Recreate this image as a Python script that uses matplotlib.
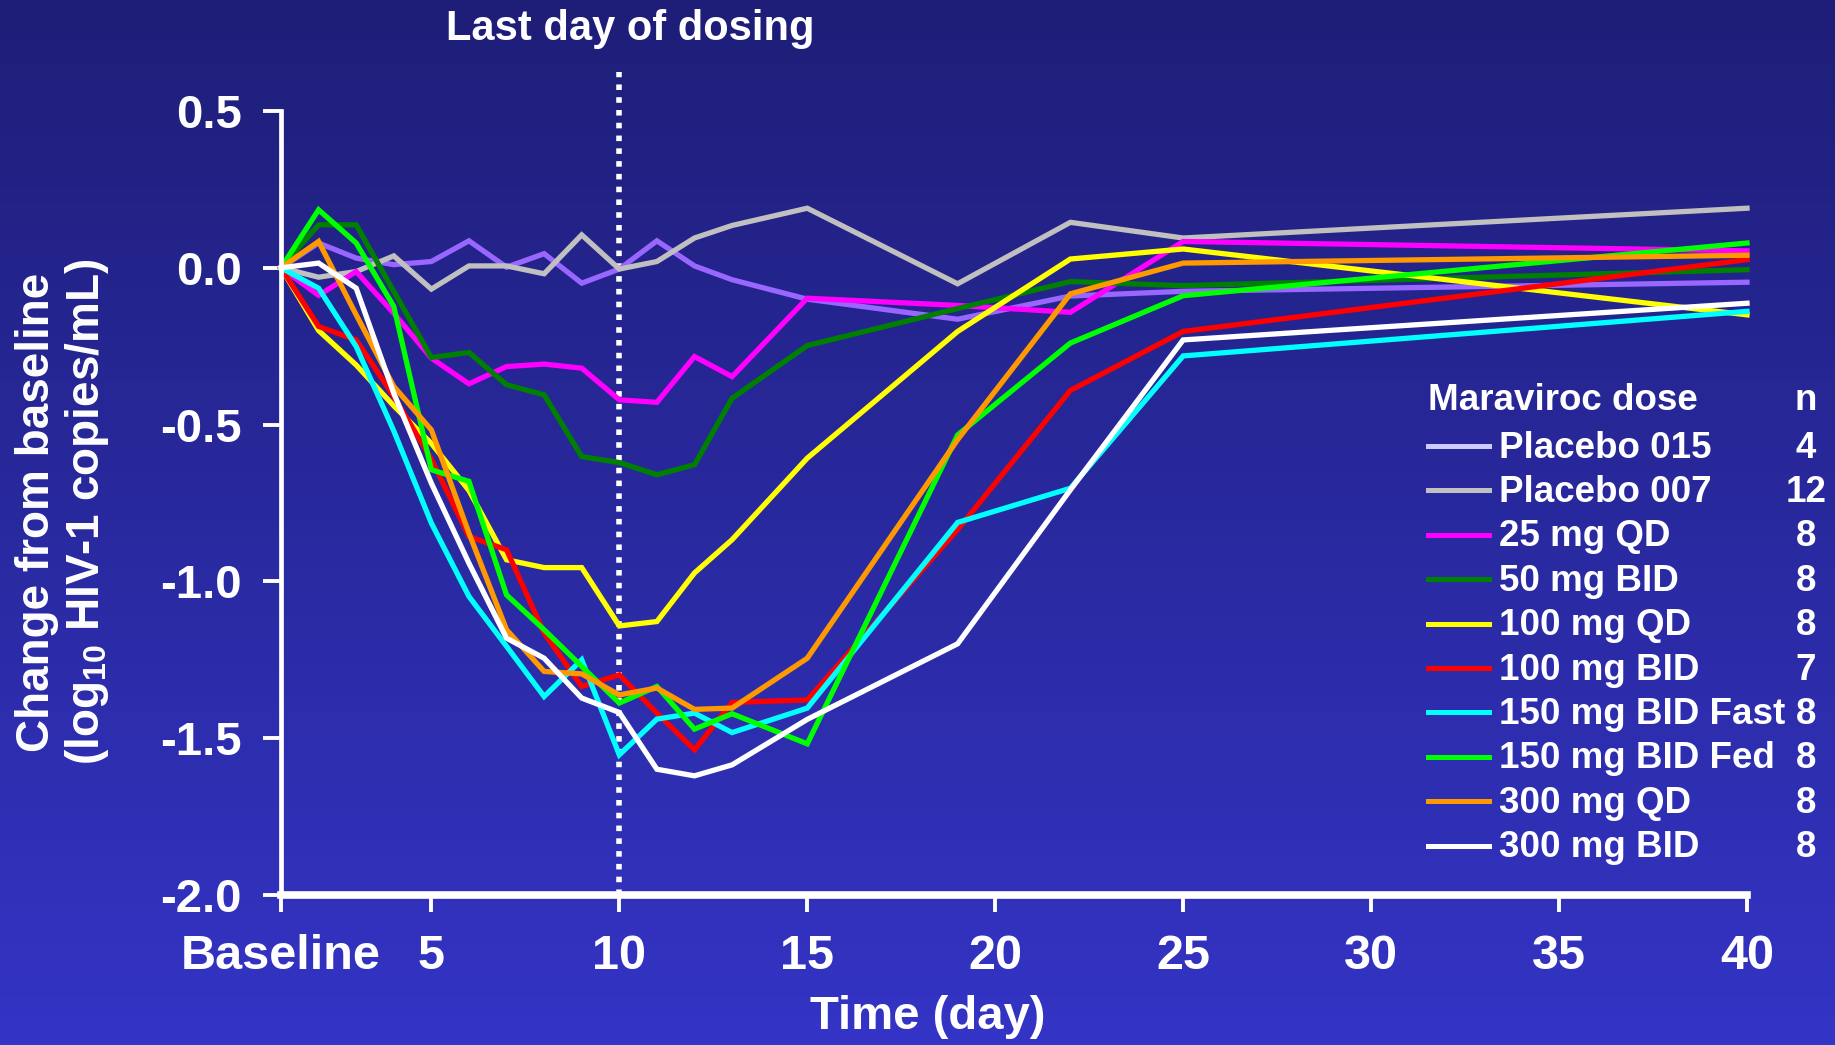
import numpy as np
import matplotlib
matplotlib.use("Agg")
import matplotlib.pyplot as plt
from matplotlib.lines import Line2D
from matplotlib.colors import LinearSegmentedColormap

plt.rcParams['font.family'] = ['Liberation Sans', 'DejaVu Sans']
plt.rcParams['font.weight'] = 'bold'
plt.rcParams['mathtext.fontset'] = 'custom'
plt.rcParams['mathtext.rm'] = 'Liberation Sans:bold'
plt.rcParams['mathtext.default'] = 'rm'

# data (change from baseline, log10 copies/mL)
days = [1, 2, 3, 4, 5, 6, 7, 8, 9, 10, 11, 12, 13, 15, 19, 22, 25, 40]

placebo_015 = [0, 0.079, 0.031, 0.010, 0.020, 0.086, 0.002, 0.045, -0.049, -0.004,
               0.086, 0.006, -0.038, -0.100, -0.164, -0.090, -0.075, -0.046]
placebo_007 = [0, -0.030, -0.012, 0.038, -0.068, 0.006, 0.006, -0.019, 0.105, -0.004,
               0.020, 0.095, 0.135, 0.190, -0.051, 0.145, 0.095, 0.190]
mg25_qd = [0, -0.088, -0.012, -0.145, -0.288, -0.370, -0.315, -0.307, -0.320, -0.421,
           -0.429, -0.283, -0.347, -0.097, -0.120, -0.142, 0.084, 0.054]
mg50_bid = [0, 0.137, 0.137, -0.075, -0.286, -0.270, -0.373, -0.405, -0.602, -0.621,
            -0.660, -0.628, -0.416, -0.248, -0.130, -0.044, -0.057, -0.006]
mg100_qd = [0, -0.200, -0.310, -0.440, -0.560, -0.710, -0.931, -0.956, -0.956, -1.142,
            -1.128, -0.973, -0.867, -0.607, -0.203, 0.028, 0.060, -0.150]
mg100_bid = [0, -0.187, -0.230, -0.410, -0.610, -0.857, -0.899, -1.165, -1.335, -1.298,
             -1.420, -1.537, -1.386, -1.378, -0.835, -0.391, -0.203, 0.026]
mg150_fast = [0, -0.065, -0.251, -0.520, -0.814, -1.048, -1.207, -1.367, -1.250, -1.553,
              -1.439, -1.420, -1.482, -1.404, -0.812, -0.703, -0.281, -0.139]
mg150_fed = [0, 0.185, 0.079, -0.123, -0.644, -0.681, -1.043, -1.154, -1.271, -1.388,
             -1.335, -1.471, -1.422, -1.518, -0.533, -0.240, -0.089, 0.079]
mg300_qd = [0, 0.084, -0.150, -0.378, -0.517, -0.846, -1.154, -1.287, -1.295, -1.362,
            -1.340, -1.408, -1.404, -1.245, -0.548, -0.083, 0.015, 0.040]
mg300_bid = [0, 0.015, -0.065, -0.400, -0.687, -0.942, -1.181, -1.245, -1.372, -1.418,
             -1.599, -1.620, -1.585, -1.440, -1.199, -0.708, -0.230, -0.113]

labels = ["Placebo 015", "Placebo 007", "25 mg QD", "50 mg BID", "100 mg QD",
          "100 mg BID", "150 mg BID Fast", "150 mg BID Fed", "300 mg QD", "300 mg BID"]
n_subjects = ["4", "12", "8", "8", "8", "7", "8", "8", "8", "8"]
series = [placebo_015, placebo_007, mg25_qd, mg50_bid, mg100_qd,
          mg100_bid, mg150_fast, mg150_fed, mg300_qd, mg300_bid]
colors = ["#9966FF", "#C0C0C0", "#FF00FF", "#008000", "#FFFF00",
          "#FF0000", "#00FFFF", "#00FF00", "#FF9900", "#FFFFFF"]
legend_colors = ["#CCCCFF"] + colors[1:]

x_ticks = [1, 5, 10, 15, 20, 25, 30, 35, 40]
x_ticklabels = ["Baseline", "5", "10", "15", "20", "25", "30", "35", "40"]
y_ticks = [0.5, 0.0, -0.5, -1.0, -1.5, -2.0]
y_ticklabels = ["0.5", "0.0", "-0.5", "-1.0", "-1.5", "-2.0"]
last_dose_day = 10

W, H = 1835, 1045
fig = plt.figure(figsize=(W / 100, H / 100), dpi=100)

# gradient background
bg = fig.add_axes([0, 0, 1, 1], zorder=-10)
grad = LinearSegmentedColormap.from_list("bg", ["#3434C6", "#1E1E78"])
bg.imshow(np.linspace(0, 1, 256).reshape(-1, 1), cmap=grad, aspect="auto",
          extent=[0, 1, 0, 1], origin="lower")
bg.axis("off")

ax = fig.add_axes([281 / W, 1 - 895 / H, (1747 - 281) / W, (895 - 111) / H])
ax.set_facecolor("none")

for ys, c in zip(series, colors):
    ax.plot(days, ys, color=c, lw=3.8, solid_joinstyle="miter", clip_on=False)

# last day of dosing marker
ax.plot([last_dose_day, last_dose_day], [-2.0, 0.623], color="white", lw=4,
        linestyle=(0, (1, 1.3)), dash_capstyle="butt", clip_on=False, zorder=1)
ax.text(last_dose_day + 0.3, 0.762, "Last day of dosing", color="white", fontsize=30,
        fontweight="bold", ha="center", va="center")

ax.set_xlim(1, 40)
ax.set_ylim(-2.0, 0.5)
ax.set_xticks(x_ticks)
ax.set_xticklabels(x_ticklabels)
ax.set_yticks(y_ticks)
ax.set_yticklabels(y_ticklabels)

for s in ["top", "right"]:
    ax.spines[s].set_visible(False)
ax.spines["left"].set_color("white")
ax.spines["left"].set_linewidth(3.4)
ax.spines["bottom"].set_color("white")
ax.spines["bottom"].set_linewidth(5.5)
ax.tick_params(axis="y", colors="white", length=13, width=2.8, pad=15, labelsize=34)
ax.tick_params(axis="x", colors="white", length=12, width=2.8, pad=16, labelsize=35)

ax.set_xlabel("Time (day)", color="white", fontsize=34, fontweight="bold")
ax.xaxis.label.set_va("center")
ax.xaxis.set_label_coords(0.441, -0.155)
fig.text(63 / W, 1 - 512 / H, "Change from baseline\n(log$_{10}$ HIV-1 copies/mL)",
         rotation=90, color="white", fontsize=33, fontweight="bold",
         ha="center", va="center", multialignment="center", linespacing=1.1)

# legend drawn by hand so the n column can sit on the right
fig.text(1428 / W, 1 - 401 / H, "Maraviroc dose", color="white", fontsize=26.5,
         fontweight="bold", ha="left", va="center")
fig.text(1806 / W, 1 - 401 / H, "n", color="white", fontsize=26.5,
         fontweight="bold", ha="center", va="center")
for i, (lab, n, c) in enumerate(zip(labels, n_subjects, legend_colors)):
    yy = 1 - (448 + i * 44.4) / H
    fig.add_artist(Line2D([1428 / W, 1489 / W], [yy + 2 / H, yy + 2 / H], color=c, lw=3.6))
    fig.text(1499 / W, yy, lab, color="white", fontsize=26.5, fontweight="bold",
             ha="left", va="center")
    fig.text(1806 / W, yy, n, color="white", fontsize=26.5, fontweight="bold",
             ha="center", va="center")

fig.savefig("out.png", dpi=100)
